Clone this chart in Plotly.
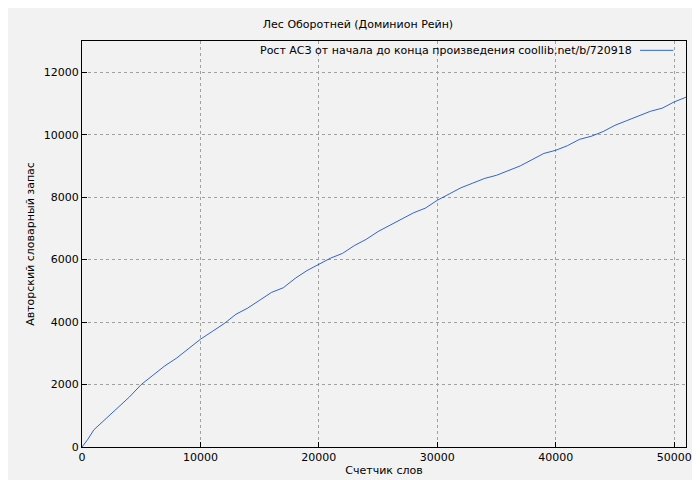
import plotly.graph_objects as go

words = [0, 500, 1000, 2000, 3000, 4000, 5000, 6000, 7000, 8000, 9000, 10000, 11000, 12000, 13000, 14000, 15000, 16000, 17000, 18000, 19000, 20000, 21000, 22000, 23000, 24000, 25000, 26000, 27000, 28000, 29000, 30000, 31000, 32000, 33000, 34000, 35000, 36000, 37000, 38000, 39000, 40000, 41000, 42000, 43000, 44000, 45000, 46000, 47000, 48000, 49000, 50000, 51000]
vocab = [0, 250, 550, 900, 1250, 1600, 2000, 2300, 2600, 2850, 3150, 3450, 3700, 3950, 4250, 4450, 4700, 4950, 5100, 5400, 5650, 5850, 6050, 6200, 6450, 6650, 6900, 7100, 7300, 7500, 7650, 7900, 8100, 8300, 8450, 8600, 8700, 8850, 9000, 9200, 9400, 9500, 9650, 9850, 9950, 10100, 10300, 10450, 10600, 10750, 10850, 11050, 11200]

font = dict(family="DejaVu Sans", size=11, color="black")
fig = go.Figure(go.Scatter(x=words, y=vocab, mode="lines", line=dict(color="#0040c0", width=0.8), showlegend=False))
ax = dict(showgrid=True, gridcolor="#a0a0a0", griddash="dot", gridwidth=1, showline=True, linecolor="black", mirror=True,
          ticks="inside", tickcolor="black", ticklen=5, zeroline=False, tickfont=font, tickformat="d", automargin=False)
fig.update_layout(
    width=700, height=480, paper_bgcolor="#f2f2f2", plot_bgcolor="#f2f2f2",
    margin=dict(l=74, r=22, t=33, b=41, autoexpand=False), font=font,
    title=dict(text="Лес Оборотней (Доминион Рейн)", x=0.5, y=0.967, xanchor="center", yanchor="middle", font=font),
    xaxis=dict(ax, range=[0, 51000], dtick=10000, title=dict(text="Счетчик слов", font=font, standoff=2)),
    yaxis=dict(ax, range=[0, 13000], dtick=2000, title=dict(text="Авторский словарный запас", font=font, standoff=6)),
    annotations=[dict(text="Рост АСЗ от начала до конца произведения coollib.net/b/720918", xref="paper", yref="paper",
                      x=0.914, y=0.977, xanchor="right", yanchor="middle", showarrow=False, font=font)],
    shapes=[dict(type="line", xref="paper", yref="paper", x0=0.924, x1=0.979, y0=0.977, y1=0.977,
                 line=dict(color="#0040c0", width=0.8))],
)
fig.write_html("out.html")
